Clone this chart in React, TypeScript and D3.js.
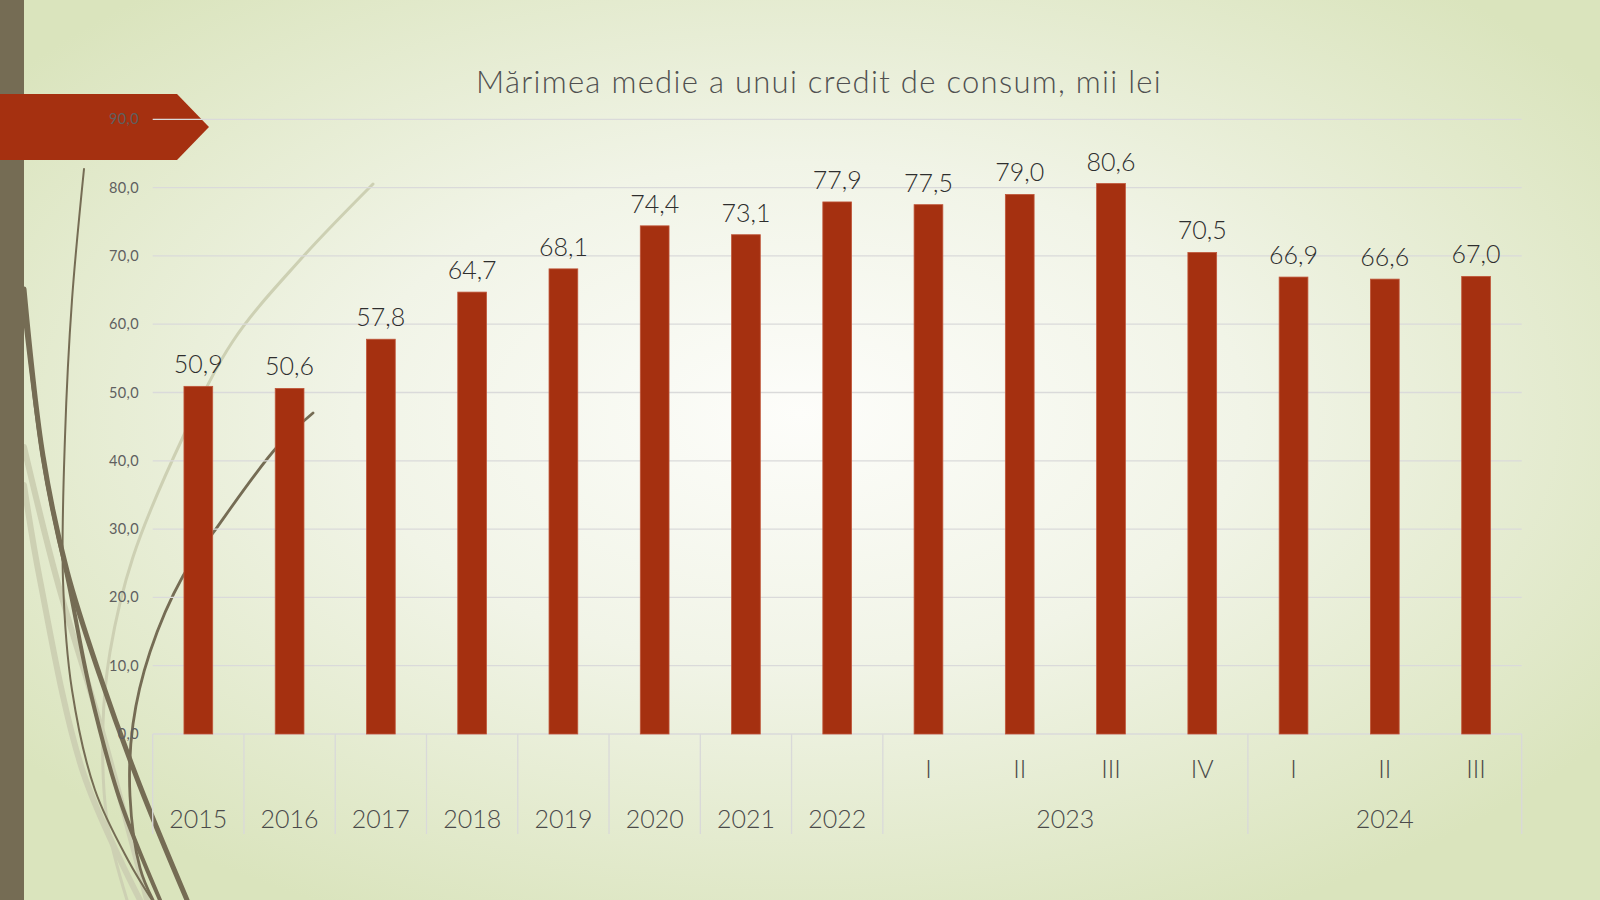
import * as d3 from "d3"
import { useEffect } from "react"

// date: mărimea medie a unui credit de consum, mii lei
const YEARS = [
  "2015", "2016", "2017", "2018", "2019", "2020", "2021", "2022",
  "2023", "2023", "2023", "2023", "2024", "2024", "2024",
]
const QUARTERS = ["", "", "", "", "", "", "", "", "I", "II", "III", "IV", "I", "II", "III"]
const VALUES = [50.9, 50.6, 57.8, 64.7, 68.1, 74.4, 73.1, 77.9, 77.5, 79.0, 80.6, 70.5, 66.9, 66.6, 67.0]
const Y_TICKS = [0, 10, 20, 30, 40, 50, 60, 70, 80, 90]
const TITLE = "Mărimea medie a unui credit de consum, mii lei"

const W = 1600
const H = 900
const FONT = "'Century Gothic', Lato, 'Noto Sans', sans-serif"
const RED = "#a53010"
const OLIVE = "#756c54"
const PALE = "#cdd0b3"

// fundal decorativ (tema Wisp)
const STRANDS: { pts: [number, number][]; color: string; w: number }[] = [
  { pts: [[24, 447], [57, 580], [100, 724], [147, 900]], color: PALE, w: 6 },
  { pts: [[24, 485], [40, 580], [83, 772], [140, 900]], color: PALE, w: 6 },
  { pts: [[373, 184], [300, 260], [233, 341], [183, 437], [133, 557], [110, 652], [103, 724], [107, 820], [127, 900]], color: PALE, w: 3 },
  { pts: [[84, 169], [72, 300], [65, 437], [63, 580], [72, 690], [95, 790], [128, 860], [152, 900]], color: OLIVE, w: 2 },
  { pts: [[24, 289], [43, 456], [67, 571], [100, 676], [140, 786], [187, 900]], color: OLIVE, w: 5 },
  { pts: [[24, 310], [45, 470], [70, 590], [90, 690], [120, 800], [160, 900]], color: OLIVE, w: 4 },
  { pts: [[313, 413], [277, 447], [213, 533], [183, 576], [150, 652], [133, 724], [130, 796], [140, 868], [153, 900]], color: OLIVE, w: 2.8 },
]

export default function App() {
  useEffect(() => {
    document.body.style.margin = "0"
  }, [])

  const left = 152.7
  const right = 1521.7
  const top = 119.3
  const bottom = 734
  const axisBottom = 834

  const idx = VALUES.map((_, i) => i)
  const x = d3.scaleBand<number>().domain(idx).range([left, right]).padding(0)
  const bw = x.bandwidth()
  const barW = bw * 0.315
  const y = d3.scaleLinear().domain([0, 90]).range([bottom, top])
  const fmt = (v: number) => d3.format(".1f")(v).replace(".", ",")
  const line = d3.line().curve(d3.curveCatmullRom.alpha(0.5))

  // grupuri de ani pentru axa de jos
  const groups: { year: string; start: number; end: number }[] = []
  YEARS.forEach((yr, i) => {
    const g = groups[groups.length - 1]
    if (g && g.year === yr) g.end = i
    else groups.push({ year: yr, start: i, end: i })
  })

  return (
    <svg width={W} height={H} style={{ display: "block", position: "absolute", left: 0, top: 0 }}>
      <defs>
        <radialGradient id="bg" cx="0.5" cy="0.46" r="0.62">
          <stop offset="0" stopColor="#fdfdfa" />
          <stop offset="0.45" stopColor="#f1f4e7" />
          <stop offset="1" stopColor="#dae4bd" />
        </radialGradient>
      </defs>
      <rect width={W} height={H} fill="url(#bg)" />
      {STRANDS.map((s, i) => (
        <path key={i} d={line(s.pts) ?? ""} fill="none" stroke={s.color} strokeWidth={s.w} strokeLinecap="round" />
      ))}
      <rect x={0} y={0} width={24} height={H} fill={OLIVE} />
      <polygon points="0,94 177,94 209,127 177,160 0,160" fill={RED} />

      <text x={819} y={93} textAnchor="middle" fontFamily={FONT} fontSize={31} fontWeight={300} letterSpacing={1.3} fill="#505050">
        {TITLE}
      </text>

      {Y_TICKS.map((t) => (
        <g key={t}>
          <line x1={left} x2={right} y1={y(t)} y2={y(t)} stroke="#dadada" strokeWidth={1.3} />
          <text x={139} y={y(t)} dy="0.35em" textAnchor="end" fontFamily={FONT} fontSize={14.5} letterSpacing={0.4} fill="#5f5f5f">
            {fmt(t)}
          </text>
        </g>
      ))}

      {VALUES.map((v, i) => {
        const cx = x(i)! + bw / 2
        return (
          <g key={i}>
            <rect x={cx - barW / 2} y={y(v)} width={barW} height={y(0) - y(v)} fill={RED} stroke="#c0563a" strokeWidth={0.8} />
            <text x={cx} y={y(v) - 13} textAnchor="middle" fontFamily={FONT} fontSize={25} fontWeight={300} fill="#2e2e2e">
              {fmt(v)}
            </text>
            {QUARTERS[i] && (
              <text x={cx} y={778} textAnchor="middle" fontFamily={FONT} fontSize={25} fontWeight={300} fill="#4a4a4a">
                {QUARTERS[i]}
              </text>
            )}
          </g>
        )
      })}

      {groups.map((g) => {
        const x0 = x(g.start)!
        const x1 = x(g.end)! + bw
        return (
          <g key={g.year}>
            <line x1={x0} x2={x0} y1={bottom} y2={axisBottom} stroke="#d9d9d9" strokeWidth={1.3} />
            <text x={(x0 + x1) / 2} y={828} textAnchor="middle" fontFamily={FONT} fontSize={25} fontWeight={300} fill="#4a4a4a">
              {g.year}
            </text>
          </g>
        )
      })}
      <line x1={right} x2={right} y1={bottom} y2={axisBottom} stroke="#d9d9d9" strokeWidth={1.3} />
    </svg>
  )
}
